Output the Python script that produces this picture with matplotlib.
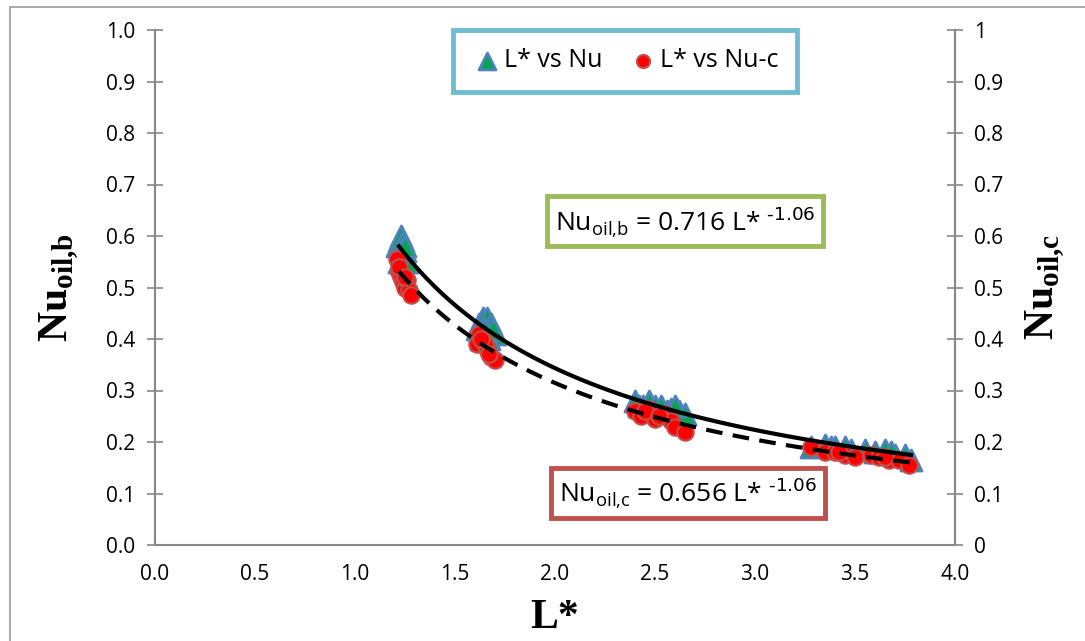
import numpy as np
import matplotlib
matplotlib.use("Agg")
import matplotlib.pyplot as plt
from matplotlib.patches import Rectangle

L_nu = [1.21, 1.22, 1.23, 1.24, 1.25, 1.24, 1.22, 1.26, 1.23, 1.25,
        1.61, 1.62, 1.64, 1.66, 1.68, 1.70, 1.63, 1.67, 1.65, 1.69,
        2.40, 2.44, 2.47, 2.50, 2.53, 2.56, 2.58, 2.62, 2.65, 2.42, 2.60,
        3.28, 3.35, 3.40, 3.45, 3.48, 3.55, 3.60, 3.65, 3.70, 3.75, 3.78, 3.38, 3.68]
Nu = [0.58, 0.59, 0.60, 0.59, 0.57, 0.56, 0.55, 0.55, 0.57, 0.58,
      0.42, 0.43, 0.44, 0.44, 0.43, 0.41, 0.40, 0.40, 0.42, 0.42,
      0.28, 0.27, 0.28, 0.27, 0.27, 0.26, 0.265, 0.26, 0.255, 0.27, 0.27,
      0.19, 0.195, 0.19, 0.19, 0.185, 0.185, 0.18, 0.185, 0.175, 0.175, 0.165, 0.19, 0.18]

L_nuc = [1.21, 1.22, 1.23, 1.24, 1.25, 1.26, 1.27, 1.28, 1.22, 1.25,
         1.61, 1.62, 1.64, 1.66, 1.68, 1.70, 1.65, 1.63, 1.67,
         2.40, 2.43, 2.47, 2.50, 2.55, 2.58, 2.60, 2.65, 2.45, 2.52,
         3.28, 3.35, 3.40, 3.45, 3.50, 3.58, 3.62, 3.67, 3.72, 3.77, 3.42, 3.65]
Nu_c = [0.555, 0.53, 0.52, 0.51, 0.50, 0.515, 0.495, 0.485, 0.54, 0.52,
        0.39, 0.41, 0.40, 0.38, 0.365, 0.36, 0.39, 0.40, 0.37,
        0.26, 0.25, 0.265, 0.245, 0.255, 0.24, 0.23, 0.22, 0.26, 0.25,
        0.19, 0.18, 0.18, 0.175, 0.17, 0.175, 0.17, 0.165, 0.165, 0.155, 0.18, 0.17]

# power-law trend lines shown on the chart
a_b, a_c, expo = 0.716, 0.656, -1.06
L_fit = np.linspace(1.22, 3.78, 100)

yticks = [0.0, 0.1, 0.2, 0.3, 0.4, 0.5, 0.6, 0.7, 0.8, 0.9, 1.0]
xticks = [0.0, 0.5, 1.0, 1.5, 2.0, 2.5, 3.0, 3.5, 4.0]

plt.rcParams['font.family'] = ['Open Sans', 'DejaVu Sans']
axis_gray = '#888888'

fig = plt.figure(figsize=(10.85, 6.41), dpi=100)
ax = fig.add_axes([155 / 1085, 96 / 641, 800 / 1085, 515 / 641])

# outer chart frame
fig.patches.append(Rectangle((10 / 1085, -0.1), 1.2, 1.1 - 7 / 641,
                             transform=fig.transFigure, fill=False,
                             edgecolor='#9a9a9a', lw=1.2))

ax.scatter(L_nu, Nu, marker='^', s=230, facecolor='#00A550',
           edgecolor='#4F81BD', linewidth=2, zorder=3, label='L* vs Nu')
ax.scatter(L_nuc, Nu_c, marker='o', s=140, facecolor='#FF0000',
           edgecolor='#C0504D', linewidth=1.5, zorder=4, label='L* vs Nu-c')
ax.plot(L_fit, a_b * L_fit ** expo, color='black', lw=3, zorder=5)
ax.plot(L_fit, a_c * L_fit ** expo, color='black', lw=3, ls=(0, (4, 2.5)), zorder=5)

ax.set_xlim(0, 4)
ax.set_ylim(0, 1)
ax.set_xticks(xticks)
ax.set_xticklabels([f'{v:.1f}' for v in xticks])
ax.set_yticks(yticks)
ax.set_yticklabels([f'{v:.1f}' for v in yticks])

ax.spines['top'].set_visible(False)
for s in ['left', 'right', 'bottom']:
    ax.spines[s].set_color(axis_gray)
    ax.spines[s].set_linewidth(1.5)
ax.tick_params(axis='both', direction='inout', length=12, width=1.2,
               color=axis_gray, labelsize=15, pad=8)
ax.tick_params(axis='x', length=0, pad=14)

ax2 = ax.twinx()
ax2.set_ylim(0, 1)
ax2.set_yticks(yticks)
ax2.set_yticklabels(['0'] + [f'{v:.1f}' for v in yticks[1:-1]] + ['1'])
for s in ['top', 'left', 'bottom']:
    ax2.spines[s].set_visible(False)
ax2.spines['right'].set_color(axis_gray)
ax2.spines['right'].set_linewidth(1.5)
ax2.tick_params(axis='y', direction='inout', length=12, width=1.2,
                color=axis_gray, labelsize=15, pad=8)

ax.set_xlabel('L*', family='Liberation Serif', weight='bold', fontsize=30, labelpad=10)
ax.set_ylabel(r'Nu$_{\mathregular{oil{,}b}}$', family='Liberation Serif',
              weight='bold', fontsize=30, labelpad=18)
ax2.set_ylabel(r'Nu$_{\mathregular{oil{,}c}}$', family='Liberation Serif',
               weight='bold', fontsize=30, labelpad=14)

leg = ax.legend(loc='upper center', bbox_to_anchor=(0.5875, 1.025), ncol=2,
                fontsize=18, frameon=True, fancybox=False, handletextpad=0.1,
                columnspacing=1.0, borderpad=0.75, handlelength=1.2,
                markerscale=0.8)
leg.get_frame().set_edgecolor('#4BACC6')
leg.get_frame().set_linewidth(3.5)

ax.text(2.65, 0.629, r'Nu$_{\mathregular{oil{,}b}}$ = 0.716 L* $^{\text{-1.06}}$',
        fontsize=19, ha='center', va='center', zorder=6,
        bbox=dict(boxstyle='square,pad=0.3', facecolor='white',
                  edgecolor='#9BBB59', linewidth=3.5))
ax.text(2.665, 0.101, r'Nu$_{\mathregular{oil{,}c}}$ = 0.656 L* $^{\text{-1.06}}$',
        fontsize=19, ha='center', va='center', zorder=6,
        bbox=dict(boxstyle='square,pad=0.3', facecolor='white',
                  edgecolor='#C0504D', linewidth=3.5))

fig.savefig('out.png', dpi=100)
